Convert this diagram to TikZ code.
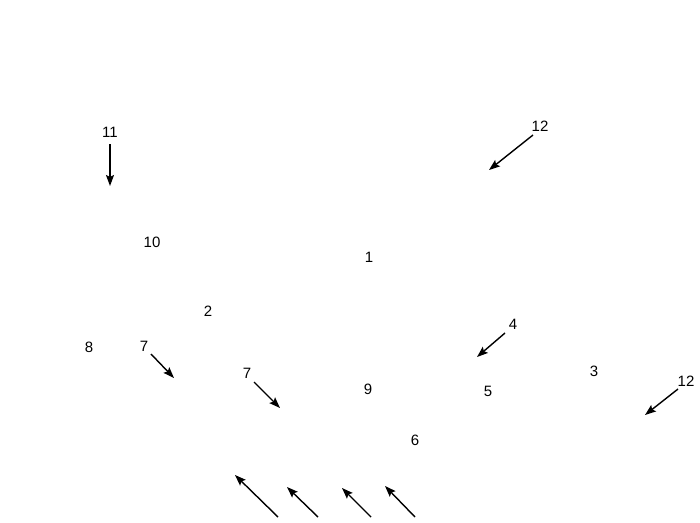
\documentclass[tikz,border=0pt]{standalone}
\usepackage{fontspec}
\setmainfont{Liberation Sans}
\usetikzlibrary{arrows.meta}
\tikzset{
  part-label/.style={font=\fontsize{15}{17}\selectfont, inner sep=1pt},
  part-arrow/.style={line width=1.4pt, -{Stealth[length=11pt,width=8pt,inset=2pt]}},
}
\begin{document}
\begin{tikzpicture}[x=1pt,y=-1pt]
\useasboundingbox (0,0) rectangle (700,522);
\node[part-label] at (110,132) (l11) {11};
\node[part-label] at (540,126) (l12a) {12};
\node[part-label] at (152,242) (l10) {10};
\node[part-label] at (369,257) (l1) {1};
\node[part-label] at (208,311) (l2) {2};
\node[part-label] at (513,324) (l4) {4};
\node[part-label] at (89,347) (l8) {8};
\node[part-label] at (144,346) (l7a) {7};
\node[part-label] at (247,373) (l7b) {7};
\node[part-label] at (594,371) (l3) {3};
\node[part-label] at (686,381) (l12b) {12};
\node[part-label] at (368,389) (l9) {9};
\node[part-label] at (488,391) (l5) {5};
\node[part-label] at (415,440) (l6) {6};
% arrow ends
\coordinate (a11s) at (110,144);
\coordinate (a11e) at (110,186);
\coordinate (a12s) at (533,135);
\coordinate (a12e) at (489,170);
\coordinate (a4s) at (505,333);
\coordinate (a4e) at (477,357);
\coordinate (b12s) at (678,389);
\coordinate (b12e) at (645,415);
\coordinate (a7s) at (151,354);
\coordinate (a7e) at (174,378);
\coordinate (b7s) at (254,382);
\coordinate (b7e) at (280,408);
\coordinate (p1s) at (278,517);
\coordinate (p1e) at (235,475);
\coordinate (p2s) at (318,517);
\coordinate (p2e) at (287,487);
\coordinate (p3s) at (371,517);
\coordinate (p3e) at (342,488);
\coordinate (p4s) at (415,517);
\coordinate (p4e) at (385,486);
\foreach \s/\e in {a11s/a11e, a12s/a12e, a4s/a4e, b12s/b12e, a7s/a7e, b7s/b7e, p1s/p1e, p2s/p2e, p3s/p3e, p4s/p4e}
  \draw[part-arrow] (\s) -- (\e);
\end{tikzpicture}
\end{document}
